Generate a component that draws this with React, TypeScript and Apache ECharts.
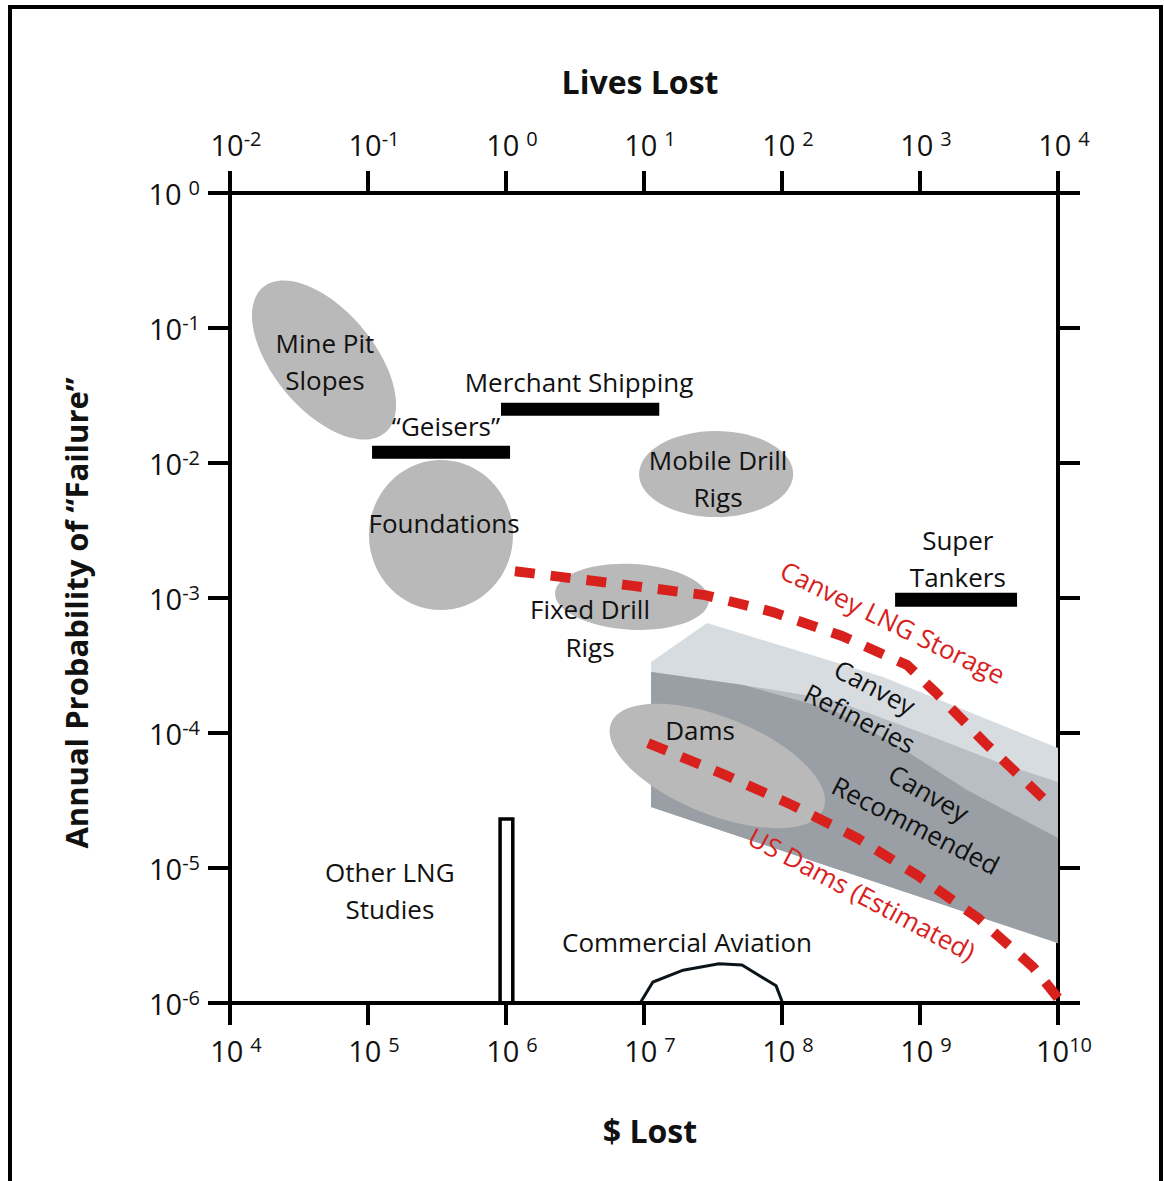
import React, { useEffect, useRef } from "react";
import * as echarts from "echarts";

const FONT = '"Open Sans", "Noto Sans", sans-serif';
const INK = "#111111";
const RED = "#d8211d";

// ---- Axis ranges ----
const dollarRange = [1e4, 1e10];
const livesRange = [1e-2, 1e4];
const probRange = [1e-6, 1];

// ---- Gray elliptical regions (center $, center prob, semi-axes in decades, tilt deg) ----
const regionNames = ["Mine Pit Slopes", "Foundations", "Mobile Drill Rigs", "Fixed Drill Rigs", "Dams"];
const regionCenterX = [4.8e4, 3.38e5, 3.33e7, 8.18e6, 3.4e7];
const regionCenterY = [5.79e-2, 2.93e-3, 8.29e-3, 1.02e-3, 5.7e-5];
const regionSpanA = [0.688, 0.522, 0.558, 0.558, 0.83];
const regionSpanB = [0.37, 0.556, 0.319, 0.244, 0.36];
const regionTilt = [50, 0, 0, 3, 22];

// ---- Canvey bands ----
const canveyRefineriesUpper: [number, number][] = [
  [1.125e7, 3.36e-4], [2.86e7, 6.53e-4], [5.4e8, 2.6e-4], [1e10, 7.74e-5], [1e10, 2.78e-6], [1.125e7, 2.83e-5],
];
const canveyRefineriesLower: [number, number][] = [
  [1.14e7, 2.83e-4], [5.21e7, 2.27e-4], [2.34e8, 1.76e-4], [1.24e9, 9.33e-5], [3.8e9, 6.0e-5],
  [1e10, 4.34e-5], [1e10, 2.78e-6], [1.125e7, 2.83e-5],
];
const canveyRecommended: [number, number][] = [
  [1.125e7, 2.83e-4], [5.21e7, 2.27e-4], [2.34e8, 1.48e-4], [7.16e8, 7.87e-5], [2.19e9, 3.78e-5],
  [1e10, 1.67e-5], [1e10, 2.78e-6], [1.125e7, 2.83e-5],
];
const bands = [canveyRefineriesUpper, canveyRefineriesLower, canveyRecommended];

// ---- Black bars ----
const merchantShipping: [number, number][] = [[9.2e5, 2.5e-2], [1.29e7, 2.5e-2]];
const geisers: [number, number][] = [[1.07e5, 1.2e-2], [1.07e6, 1.2e-2]];
const superTankers: [number, number][] = [[6.6e8, 9.7e-4], [5.05e9, 9.7e-4]];

// ---- Other LNG studies (outlined bar) ----
const otherLng: [number, number][] = [[9.06e5, 1e-6], [9.06e5, 2.31e-5], [1.12e6, 2.31e-5], [1.12e6, 1e-6]];

// ---- Commercial aviation arc ----
const commercialAviation: [number, number][] = [
  [9.5e6, 1.02e-6], [1.16e7, 1.43e-6], [1.92e7, 1.75e-6], [3.49e7, 1.95e-6],
  [5.13e7, 1.91e-6], [9.06e7, 1.34e-6], [1.0e8, 1.03e-6],
];

// ---- Red dashed curves ----
const canveyLngStorage: [number, number][] = [
  [1.16e6, 1.58e-3], [8.32e6, 1.23e-3], [2.77e7, 1.05e-3], [8.6e7, 7.87e-4], [2.72e8, 5.23e-4],
  [8.05e8, 3.19e-4], [1.29e9, 2.01e-4], [2.96e9, 8.43e-5], [8.47e9, 3.03e-5],
];
const usDams: [number, number][] = [
  [1.07e7, 8.43e-5], [3.86e7, 4.89e-5], [1.18e8, 2.93e-5], [3.49e8, 1.67e-5], [9.5e8, 8.87e-6],
  [2.63e9, 4.26e-6], [6.59e9, 1.85e-6], [1e10, 1.09e-6],
];

// ---- Text annotations ----
const labelTexts = [
  "Mine Pit", "Slopes", "Merchant Shipping", "\u201cGeisers\u201d", "Mobile Drill", "Rigs", "Foundations",
  "Super", "Tankers", "Fixed Drill", "Rigs", "Dams", "Other LNG", "Studies", "Commercial Aviation",
  "Canvey", "Refineries", "Canvey", "Recommended", "Canvey LNG Storage", "US Dams (Estimated)",
];
const labelX = [
  4.87e4, 4.87e4, 3.38e6, 3.67e5, 3.44e7, 3.44e7, 3.56e5, 1.88e9, 1.88e9, 4.06e6, 4.06e6, 2.55e7,
  1.44e5, 1.44e5, 2.05e7, 4.72e8, 3.67e8, 1.16e9, 9.35e8, 6.37e8, 3.8e8,
];
const labelY = [
  7.74e-2, 4.12e-2, 3.98e-2, 1.88e-2, 1.05e-2, 5.6e-3, 3.6e-3, 2.69e-3, 1.43e-3, 8.29e-4, 4.34e-4,
  1.05e-4, 9.33e-6, 4.97e-6, 2.83e-6, 2.19e-4, 1.29e-4, 3.6e-5, 2.08e-5, 6.64e-4, 6.42e-6,
];
const labelAngle = [0, 0, 0, 0, 0, 0, 0, 0, 0, 0, 0, 0, 0, 0, 0, 28, 27, 30, 27, 26, 28];
const labelRed = [0, 0, 0, 0, 0, 0, 0, 0, 0, 0, 0, 0, 0, 0, 0, 0, 0, 0, 0, 1, 1];

const powLabel = (v: number) => {
  const e = Math.round(Math.log10(v));
  if (e < 0) return `{b|10}{n|${e}}`;
  if (e >= 10) return `{b|10}{n|${e}}`;
  return `{b|10}{p|${e}}`;
};

const rich = {
  b: { fontSize: 29, fontFamily: FONT, color: INK, lineHeight: 32 },
  n: { fontSize: 20, fontFamily: FONT, color: INK, lineHeight: 25, verticalAlign: "top" },
  p: { fontSize: 20, fontFamily: FONT, color: INK, lineHeight: 25, verticalAlign: "top", padding: [0, 0, 0, 7] },
};

const axisLine = { show: true, onZero: false, lineStyle: { color: "#000", width: 4 } };
const axisTick = { show: true, inside: false, length: 22, lineStyle: { color: "#000", width: 4 } };

function buildOption() {
  const lineSeries = (data: [number, number][], color: string, width: number, dash?: number[], z = 4) => ({
    type: "line",
    data,
    symbol: "none",
    showSymbol: false,
    silent: true,
    clip: false,
    z,
    lineStyle: { color, width, type: dash || "solid", cap: "butt", join: "miter" },
  });

  return {
    animation: false,
    backgroundColor: "#ffffff",
    grid: { left: 230, top: 193, width: 828, height: 810, containLabel: false },
    xAxis: [
      {
        type: "log", logBase: 10, min: dollarRange[0], max: dollarRange[1], position: "bottom", splitNumber: 6,
        axisLine, axisTick, splitLine: { show: false }, minorTick: { show: false },
        axisLabel: { formatter: powLabel, rich, margin: 31, padding: [0, 0, 0, 12], showMinLabel: true, showMaxLabel: true, hideOverlap: false },
      },
      {
        type: "log", logBase: 10, min: livesRange[0], max: livesRange[1], position: "top", splitNumber: 6,
        axisLine, axisTick, splitLine: { show: false }, minorTick: { show: false },
        axisLabel: { formatter: powLabel, rich, margin: 33, padding: [0, 0, 0, 12], showMinLabel: true, showMaxLabel: true, hideOverlap: false },
      },
    ],
    yAxis: [
      {
        type: "log", logBase: 10, min: probRange[0], max: probRange[1], position: "left", splitNumber: 6,
        axisLine, axisTick, splitLine: { show: false }, minorTick: { show: false },
        axisLabel: { formatter: powLabel, rich, margin: 30, showMinLabel: true, showMaxLabel: true, hideOverlap: false },
      },
      {
        type: "log", logBase: 10, min: probRange[0], max: probRange[1], position: "right", splitNumber: 6,
        axisLine, axisTick, splitLine: { show: false }, minorTick: { show: false },
        axisLabel: { show: false },
      },
    ],
    graphic: [
      { type: "rect", silent: true, shape: { x: 10, y: 7, width: 1151, height: 1200 }, style: { fill: "none", stroke: "#000", lineWidth: 4 } },
      { type: "text", x: 640, y: 81, style: { text: "Lives Lost", fontSize: 32, fontWeight: "bold", fontFamily: FONT, fill: INK, align: "center", verticalAlign: "middle" } },
      { type: "text", x: 650, y: 1130, style: { text: "$ Lost", fontSize: 32, fontWeight: "bold", fontFamily: FONT, fill: INK, align: "center", verticalAlign: "middle" } },
      { type: "text", x: 76, y: 613, rotation: Math.PI / 2, style: { text: "Annual Probability of \u201cFailure\u201d", fontSize: 31, fontWeight: "bold", fontFamily: FONT, fill: INK, align: "center", verticalAlign: "middle" } },
    ],
    series: [
      {
        type: "custom",
        name: "Canvey bands",
        silent: true,
        z: 1,
        data: bands.map((b) => b[0]),
        renderItem: (params: any, api: any) => {
          const band = bands[params.dataIndex];
          const colors = ["#d6dce0", "#b8bec3", "#999fa5"];
          return {
            type: "polygon",
            shape: { points: band.map((p) => api.coord(p)) },
            style: { fill: colors[params.dataIndex] },
          };
        },
      },
      {
        type: "custom",
        name: "Regions",
        silent: true,
        z: 2,
        data: regionNames.map((_, i) => [regionCenterX[i], regionCenterY[i]]),
        renderItem: (params: any, api: any) => {
          const i = params.dataIndex;
          const c = api.coord([regionCenterX[i], regionCenterY[i]]);
          const dx = api.coord([regionCenterX[i] * 10, regionCenterY[i]])[0] - c[0];
          const dy = api.coord([regionCenterX[i], regionCenterY[i] / 10])[1] - c[1];
          return {
            type: "ellipse",
            x: c[0],
            y: c[1],
            rotation: (-regionTilt[i] * Math.PI) / 180,
            shape: { cx: 0, cy: 0, rx: regionSpanA[i] * dx, ry: regionSpanB[i] * dy },
            style: { fill: "#b9b9b9" },
          };
        },
      },
      lineSeries(merchantShipping, "#000", 13, undefined, 3),
      lineSeries(geisers, "#000", 13, undefined, 3),
      lineSeries(superTankers, "#000", 14, undefined, 3),
      lineSeries(otherLng, "#000", 3.5, undefined, 3),
      lineSeries(commercialAviation, "#0b1419", 3, undefined, 3),
      lineSeries(canveyLngStorage, RED, 10, [20, 16], 4),
      lineSeries(usDams, RED, 10, [20, 16], 4),
      {
        type: "custom",
        name: "Labels",
        silent: true,
        z: 5,
        data: labelTexts.map((_, i) => [labelX[i], labelY[i]]),
        renderItem: (params: any, api: any) => {
          const i = params.dataIndex;
          const p = api.coord([labelX[i], labelY[i]]);
          return {
            type: "text",
            x: p[0],
            y: p[1],
            rotation: (-labelAngle[i] * Math.PI) / 180,
            style: {
              text: labelTexts[i],
              fill: labelRed[i] ? RED : INK,
              fontSize: 26,
              fontFamily: FONT,
              align: "center",
              verticalAlign: "middle",
            },
          };
        },
      },
    ],
  };
}

export default function App() {
  const ref = useRef<HTMLDivElement>(null);
  useEffect(() => {
    if (!ref.current) return;
    const chart = echarts.init(ref.current, null, { renderer: "svg" });
    chart.setOption(buildOption() as any);
    return () => chart.dispose();
  }, []);
  return (
    <div
      ref={ref}
      style={{ position: "fixed", left: 0, top: 0, width: 1164, height: 1181, background: "#fff" }}
    />
  );
}
